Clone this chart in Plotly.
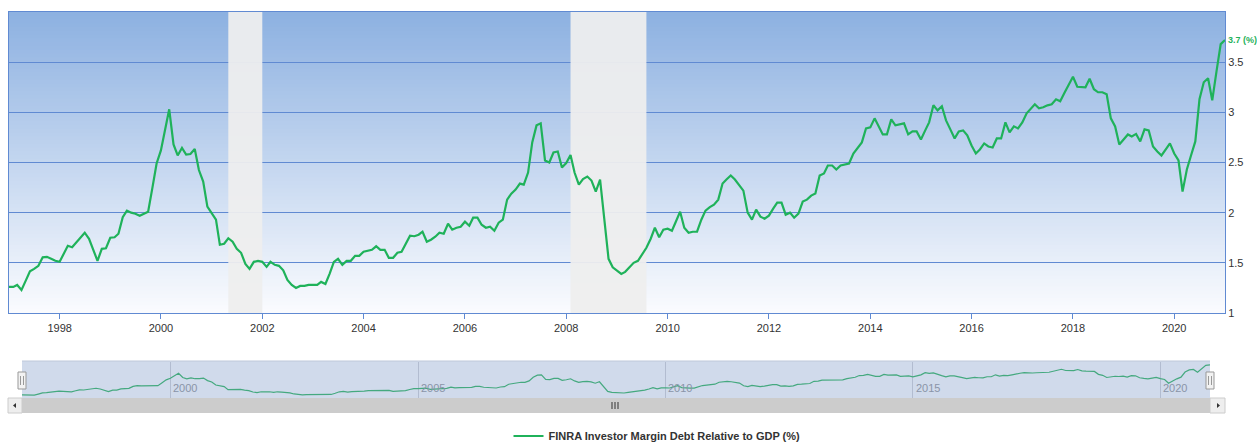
import plotly.graph_objects as go
import pandas as pd

# ---------------- data ----------------
start_month = "1997-01-01"
margin_debt_pct = [
    1.26, 1.26, 1.28, 1.23, 1.32, 1.415, 1.44, 1.47, 1.555, 1.56, 1.54, 1.52,      # 1997
    1.51, 1.595, 1.67, 1.655, 1.70, 1.75, 1.80, 1.74, 1.63, 1.52, 1.64, 1.645,     # 1998
    1.75, 1.755, 1.79, 1.955, 2.02, 2.00, 1.99, 1.97, 1.99, 2.01, 2.25, 2.49,      # 1999
    2.62, 2.83, 3.03, 2.68, 2.57, 2.645, 2.58, 2.585, 2.635, 2.425, 2.31, 2.06,    # 2000
    2.00, 1.93, 1.68, 1.69, 1.745, 1.71, 1.64, 1.60, 1.49, 1.44, 1.51, 1.52,       # 2001
    1.51, 1.46, 1.51, 1.48, 1.47, 1.425, 1.33, 1.28, 1.25, 1.27, 1.27, 1.28,       # 2002
    1.28, 1.28, 1.31, 1.29, 1.39, 1.51, 1.54, 1.48, 1.52, 1.52, 1.57, 1.57,        # 2003
    1.61, 1.62, 1.63, 1.665, 1.63, 1.63, 1.55, 1.55, 1.60, 1.61, 1.70, 1.77,       # 2004
    1.765, 1.78, 1.81, 1.71, 1.73, 1.76, 1.80, 1.79, 1.89, 1.83, 1.85, 1.86,       # 2005
    1.91, 1.87, 1.95, 1.95, 1.88, 1.85, 1.86, 1.82, 1.90, 1.93, 2.13, 2.19,        # 2006
    2.23, 2.29, 2.28, 2.40, 2.70, 2.87, 2.89, 2.52, 2.50, 2.60, 2.61, 2.45,        # 2007
    2.495, 2.575, 2.40, 2.28, 2.335, 2.36, 2.32, 2.21, 2.33, 1.95, 1.54, 1.455,    # 2008
    1.42, 1.39, 1.41, 1.46, 1.50, 1.52, 1.59, 1.65, 1.74, 1.85, 1.755, 1.83,       # 2009
    1.84, 1.82, 1.91, 2.01, 1.85, 1.80, 1.81, 1.81, 1.93, 2.02, 2.055, 2.08,       # 2010
    2.13, 2.29, 2.33, 2.37, 2.33, 2.27, 2.22, 2.00, 1.93, 2.03, 1.96, 1.94,        # 2011
    1.97, 2.04, 2.10, 2.10, 1.98, 2.00, 1.95, 1.99, 2.11, 2.13, 2.17, 2.19,        # 2012
    2.37, 2.39, 2.47, 2.47, 2.43, 2.47, 2.48, 2.49, 2.59, 2.64, 2.70, 2.84,        # 2013
    2.85, 2.94, 2.86, 2.78, 2.78, 2.93, 2.87, 2.88, 2.89, 2.78, 2.81, 2.81,        # 2014
    2.73, 2.82, 2.90, 3.07, 3.02, 3.06, 2.92, 2.83, 2.74, 2.81, 2.82, 2.77,        # 2015
    2.67, 2.59, 2.63, 2.69, 2.66, 2.65, 2.74, 2.74, 2.90, 2.80, 2.86, 2.84,        # 2016
    2.90, 2.99, 3.03, 3.08, 3.04, 3.05, 3.07, 3.08, 3.13, 3.11, 3.195, 3.28,       # 2017
    3.355, 3.255, 3.25, 3.25, 3.335, 3.23, 3.20, 3.20, 3.18, 2.94, 2.86, 2.68,     # 2018
    2.73, 2.78, 2.76, 2.785, 2.71, 2.83, 2.82, 2.66, 2.61, 2.57, 2.63, 2.69,       # 2019
    2.59, 2.52, 2.21, 2.43, 2.57, 2.71, 3.13, 3.30, 3.34, 3.12, 3.41, 3.68,        # 2020
    3.72,                                                                          # 2021-01
]
dates = pd.date_range(start_month, periods=len(margin_debt_pct), freq="MS")

recession_starts = ["2001-05-01", "2008-02-01"]
recession_ends = ["2002-01-01", "2009-08-01"]

y_range = [1, 4]
y_tick_vals = [1, 1.5, 2, 2.5, 3, 3.5]
y_tick_text = ["1", "1.5", "2", "2.5", "3", "3.5"]
nav_tick_years = ["2000", "2005", "2010", "2015", "2020"]
last_label = "3.7 (%)"
series_name = "FINRA Investor Margin Debt Relative to GDP (%)"

# ---------------- styling ----------------
LINE_GREEN = "#1fb25a"
NAV_GREEN = "#45a97f"
GRID_BLUE = "rgb(96,138,210)"
FONT = "Liberation Sans, Arial, sans-serif"

fig = go.Figure()

# recession bands as filled traces (drawn above gridlines, below the line)
for s, e in zip(recession_starts, recession_ends):
    fig.add_trace(go.Scatter(
        x=[s, s, e, e, s], y=[y_range[0], y_range[1], y_range[1], y_range[0], y_range[0]],
        mode="lines", fill="toself", fillcolor="rgba(238,238,238,0.94)",
        line=dict(width=0, color="rgba(0,0,0,0)"), hoverinfo="skip", showlegend=False,
        xaxis="x", yaxis="y",
    ))

fig.add_trace(go.Scatter(
    x=dates, y=margin_debt_pct, mode="lines", name=series_name,
    line=dict(color=LINE_GREEN, width=2.2), xaxis="x", yaxis="y",
    hoverinfo="x+y",
))
fig.add_trace(go.Scatter(
    x=dates, y=margin_debt_pct, mode="lines", name=series_name,
    line=dict(color=NAV_GREEN, width=1.2), xaxis="x2", yaxis="y2",
    showlegend=False, hoverinfo="skip",
))

shapes = []
# gradient background of main plot (top blue -> bottom near white)
n_bands = 80
top = (141, 177, 225)
bot = (250, 251, 254)
for i in range(n_bands):
    t = i / (n_bands - 1)
    c = tuple(round(bot[k] + (top[k] - bot[k]) * t) for k in range(3))
    shapes.append(dict(type="rect", xref="x domain", yref="y domain",
                       x0=0, x1=1, y0=i / n_bands, y1=min(1, (i + 1) / n_bands + 0.003),
                       fillcolor="rgb(%d,%d,%d)" % c, line=dict(width=0), layer="below"))

# paper coords helpers; paper spans y=12..398 px and x=9..1225 px
PH = 386.0
def py(px):
    return (398 - px) / PH
def pxx(px):
    return (px - 9) / 1216.0

# navigator background
shapes.append(dict(type="rect", xref="paper", yref="paper", x0=pxx(22), x1=pxx(1210),
                   y0=py(398), y1=py(361), fillcolor="rgb(208,218,235)",
                   line=dict(width=0), layer="below"))
shapes.append(dict(type="line", xref="paper", yref="paper", x0=pxx(22), x1=pxx(1210),
                   y0=py(361), y1=py(361), line=dict(color="rgb(190,200,218)", width=1), layer="below"))

# scrollbar
shapes.append(dict(type="rect", xref="paper", yref="paper", x0=pxx(8), x1=pxx(1225),
                   y0=py(413), y1=py(398), fillcolor="#cccccc", line=dict(width=0)))
for a, b in [(8, 22), (1210, 1225)]:
    shapes.append(dict(type="rect", xref="paper", yref="paper", x0=pxx(a), x1=pxx(b),
                       y0=py(413), y1=py(398), fillcolor="#eeeeee",
                       line=dict(color="#cccccc", width=1)))
shapes.append(dict(type="path", xref="paper", yref="paper",
                   path="M %f %f L %f %f L %f %f Z" % (pxx(13), py(405.5), pxx(16), py(403), pxx(16), py(408)),
                   fillcolor="#333333", line=dict(width=0)))
shapes.append(dict(type="path", xref="paper", yref="paper",
                   path="M %f %f L %f %f L %f %f Z" % (pxx(1220), py(405.5), pxx(1217), py(403), pxx(1217), py(408)),
                   fillcolor="#333333", line=dict(width=0)))
for gx in (612, 615, 618):
    shapes.append(dict(type="line", xref="paper", yref="paper", x0=pxx(gx), x1=pxx(gx),
                       y0=py(409), y1=py(402), line=dict(color="#333333", width=1)))
# navigator handles
for hx in (22, 1210):
    shapes.append(dict(type="rect", xref="paper", yref="paper", x0=pxx(hx - 4), x1=pxx(hx + 4),
                       y0=py(389), y1=py(372), fillcolor="#f2f2f2",
                       line=dict(color="#999999", width=1)))
    for dx in (-1.5, 1.5):
        shapes.append(dict(type="line", xref="paper", yref="paper", x0=pxx(hx + dx), x1=pxx(hx + dx),
                           y0=py(385), y1=py(376), line=dict(color="#999999", width=1)))

annotations = [dict(
    x=dates[-1], y=margin_debt_pct[-1], xref="x", yref="y", text="<b>" + last_label + "</b>",
    showarrow=False, xanchor="left", yanchor="middle", xshift=1,
    font=dict(color=LINE_GREEN, size=9, family=FONT),
)]
for yr in nav_tick_years:
    annotations.append(dict(
        x=yr + "-01-01", y=0, xref="x2", yref="paper", text=yr, showarrow=False,
        xanchor="left", yanchor="bottom", xshift=1, yshift=2,
        font=dict(color="#8a94a8", size=11, family=FONT),
    ))

fig.update_layout(
    width=1257, height=442,
    margin=dict(l=9, r=32, t=12, b=44, autoexpand=False),
    paper_bgcolor="white",
    plot_bgcolor="rgba(0,0,0,0)",
    font=dict(family=FONT, size=11, color="#333333"),
    showlegend=True,
    legend=dict(orientation="h", x=pxx(657), xanchor="center", y=py(436), yanchor="middle",
                font=dict(size=11, color="#333333", family=FONT, weight="bold"),
                bgcolor="rgba(0,0,0,0)"),
    xaxis=dict(
        domain=[0, 1], range=[dates[0], dates[-1]], type="date",
        tick0="1998-01-01", dtick="M24", tickformat="%Y",
        ticks="outside", ticklen=5, tickcolor=GRID_BLUE,
        showgrid=False, showline=True, linecolor=GRID_BLUE, linewidth=1, mirror=True,
        anchor="y", zeroline=False, tickfont=dict(size=11, color="#333333"), automargin=False,
    ),
    yaxis=dict(
        domain=[py(313), 1], range=y_range, side="right",
        tickvals=y_tick_vals, ticktext=y_tick_text,
        showgrid=True, gridcolor=GRID_BLUE, gridwidth=1,
        showline=True, linecolor=GRID_BLUE, linewidth=1, mirror=True,
        zeroline=False, ticks="", anchor="x", automargin=False,
        tickfont=dict(size=11, color="#333333"),
    ),
    xaxis2=dict(
        domain=[pxx(22), pxx(1210)], range=[dates[0], dates[-1]], type="date",
        anchor="y2", showticklabels=False, ticks="",
        tick0="2000-01-01", dtick="M60", showgrid=True, gridcolor="rgb(178,188,208)", gridwidth=1,
        showline=False, zeroline=False, automargin=False,
    ),
    yaxis2=dict(
        domain=[0, py(362)], range=[1.0, 3.95], anchor="x2",
        showticklabels=False, showgrid=False, zeroline=False, showline=False, ticks="",
        automargin=False,
    ),
    shapes=shapes,
    annotations=annotations,
)

fig.write_html(
    "out.html",
    config={"displayModeBar": False},
    post_script="document.body.style.margin='0';document.body.style.overflow='hidden';",
)
